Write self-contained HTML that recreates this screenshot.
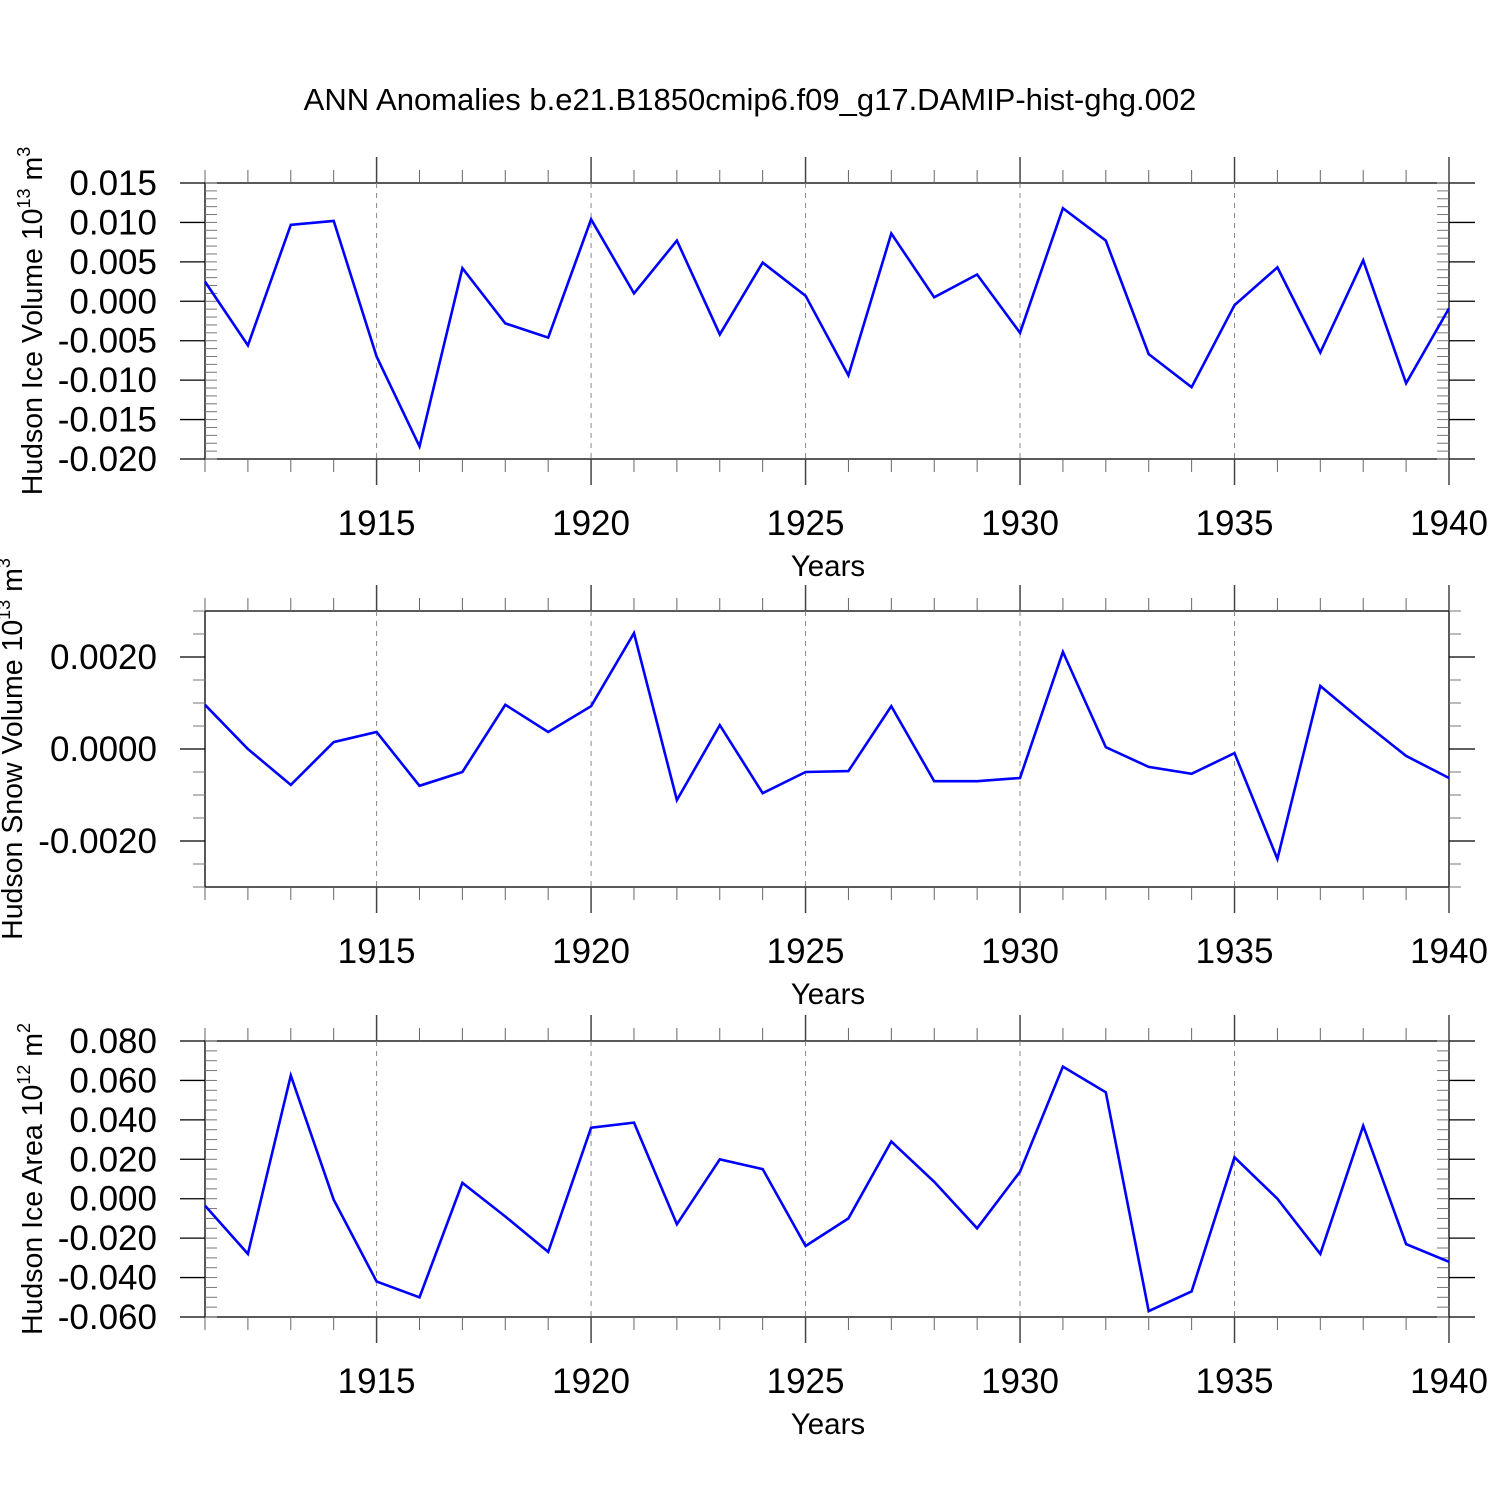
<!DOCTYPE html>
<html><head><meta charset="utf-8"><style>
body{margin:0;background:#fff}
svg{display:block;font-family:"Liberation Sans",sans-serif}
</style></head><body>
<svg id="chart" width="1500" height="1500" viewBox="0 0 1500 1500">
<text x="750" y="110" text-anchor="middle" font-size="31">ANN Anomalies b.e21.B1850cmip6.f09_g17.DAMIP-hist-ghg.002</text>
</svg>
<script>
const years = [1911,1912,1913,1914,1915,1916,1917,1918,1919,1920,1921,1922,1923,1924,1925,1926,1927,1928,1929,1930,1931,1932,1933,1934,1935,1936,1937,1938,1939,1940];
const iceVolume = [0.0025,-0.0056,0.0097,0.0102,-0.0070,-0.0184,0.0042,-0.0028,-0.0046,0.0104,0.0010,0.0077,-0.0042,0.0049,0.0007,-0.0094,0.0086,0.0005,0.0034,-0.0040,0.0118,0.0077,-0.0067,-0.0109,-0.0005,0.0043,-0.0065,0.0052,-0.0104,-0.0009];
const snowVolume = [0.00096,0.0,-0.00078,0.00015,0.00037,-0.0008,-0.0005,0.00096,0.00037,0.00093,0.00252,-0.00111,0.00052,-0.00096,-0.0005,-0.00048,0.00093,-0.0007,-0.0007,-0.00063,0.00211,0.00004,-0.00039,-0.00054,-0.00009,-0.00239,0.00137,0.00059,-0.00015,-0.00063];
const iceArea = [-0.0035,-0.028,0.0625,-0.0005,-0.042,-0.050,0.008,-0.009,-0.027,0.036,0.0386,-0.013,0.020,0.015,-0.024,-0.010,0.029,0.0086,-0.015,0.0137,0.067,0.054,-0.057,-0.047,0.021,0.0,-0.028,0.037,-0.023,-0.032];
const xTickLabels = ["1915","1920","1925","1930","1935","1940"];
const yTicks1 = [-0.020,-0.015,-0.010,-0.005,0.000,0.005,0.010,0.015];
const yTicks2 = [-0.002,0.000,0.002];
const yTicks3 = [-0.060,-0.040,-0.020,0.000,0.020,0.040,0.060,0.080];

const NS="http://www.w3.org/2000/svg";
const svg=document.getElementById('chart');
function mk(tag,attrs,parent){const e=document.createElementNS(NS,tag);for(const k in attrs)e.setAttribute(k,attrs[k]);(parent||svg).appendChild(e);return e;}
const L=205,R=1449;
const xs=y=>L+(y-1911)*(R-L)/(1940-1911);

function panel(name,top,bot,ymin,ymax,ticks,dec,minorStep,minorOut,data,labelParts,titleX){
  const g=mk('g',{});
  
  
  const ys=v=>bot-(v-ymin)*(bot-top)/(ymax-ymin);
  mk('rect',{x:L,y:top,width:R-L,height:bot-top,fill:'none',stroke:'#000','stroke-width':1.3},g);
  xTickLabels.forEach(t=>{const x=xs(+t);if(+t<1940)mk('line',{x1:x,x2:x,y1:top,y2:bot,stroke:'#888','stroke-dasharray':'5,5','stroke-width':1},g);});
  for(let yr=1911;yr<=1940;yr++){const x=xs(yr);const maj=(yr%5===0);const len=maj?26:13;
    mk('line',{x1:x,x2:x,y1:top-len,y2:top,stroke:maj?'#444':'#666','stroke-width':maj?1.5:1},g);
    mk('line',{x1:x,x2:x,y1:bot,y2:bot+len,stroke:maj?'#444':'#666','stroke-width':maj?1.5:1},g);}
  xTickLabels.forEach(t=>{const tx=mk('text',{x:xs(+t),y:bot+76,'text-anchor':'middle','font-size':35},g);tx.textContent=t;
    
    });
  const xt=mk('text',{x:828,y:bot+117,'text-anchor':'middle','font-size':29.5},g);xt.textContent='Years';
  
  
  const n=Math.round((ymax-ymin)/minorStep);
  for(let i=0;i<=n;i++){const y=ys(ymin+i*minorStep);
    if(minorOut){mk('line',{x1:L-12,x2:L,y1:y,y2:y,stroke:'#777'},g);mk('line',{x1:R,x2:R+12,y1:y,y2:y,stroke:'#777'},g);}
    else{mk('line',{x1:L,x2:L+12,y1:y,y2:y,stroke:'#777'},g);mk('line',{x1:R-12,x2:R,y1:y,y2:y,stroke:'#777'},g);}}
  ticks.forEach(v=>{const y=ys(v);
    mk('line',{x1:L-25,x2:L,y1:y,y2:y,stroke:'#000','stroke-width':1.3},g);
    mk('line',{x1:R,x2:R+26,y1:y,y2:y,stroke:'#000','stroke-width':1.3},g);
    const tx=mk('text',{x:157,y:y+12,'text-anchor':'end','font-size':35},g);
    tx.textContent=(v<0?'-':'')+Math.abs(v).toFixed(dec);
    
    });
  const pts=data.map((v,i)=>xs(years[i]).toFixed(1)+','+ys(v).toFixed(1)).join(' ');
  const pl=mk('polyline',{points:pts,fill:'none',stroke:'#0000ff','stroke-width':2.6,'stroke-linejoin':'miter'},g);
  
  
  const cy=(top+bot)/2;
  const yt=mk('text',{x:0,y:0,'text-anchor':'middle','font-size':28.5,transform:`translate(${titleX},${cy}) rotate(-90)`},g);
  
  
  const a=document.createElementNS(NS,'tspan');a.textContent=labelParts[0];yt.appendChild(a);
  const b=document.createElementNS(NS,'tspan');b.setAttribute('dy','-12');b.setAttribute('font-size','18');b.textContent=labelParts[1];yt.appendChild(b);
  const c=document.createElementNS(NS,'tspan');c.setAttribute('dy','12');c.textContent=' '+labelParts[2];yt.appendChild(c);
  const d=document.createElementNS(NS,'tspan');d.setAttribute('dy','-12');d.setAttribute('font-size','18');d.textContent=labelParts[3];yt.appendChild(d);
}
panel('ice-volume',183,459,-0.020,0.015,yTicks1,3,0.001,false,iceVolume,['Hudson Ice Volume 10','13','m','3'],42);
panel('snow-volume',611,887,-0.003,0.003,yTicks2,4,0.0005,true,snowVolume,['Hudson Snow Volume 10','13','m','3'],22);
panel('ice-area',1041,1317,-0.060,0.080,yTicks3,3,0.005,false,iceArea,['Hudson Ice Area 10','12','m','2'],42);
</script>
</body></html>
